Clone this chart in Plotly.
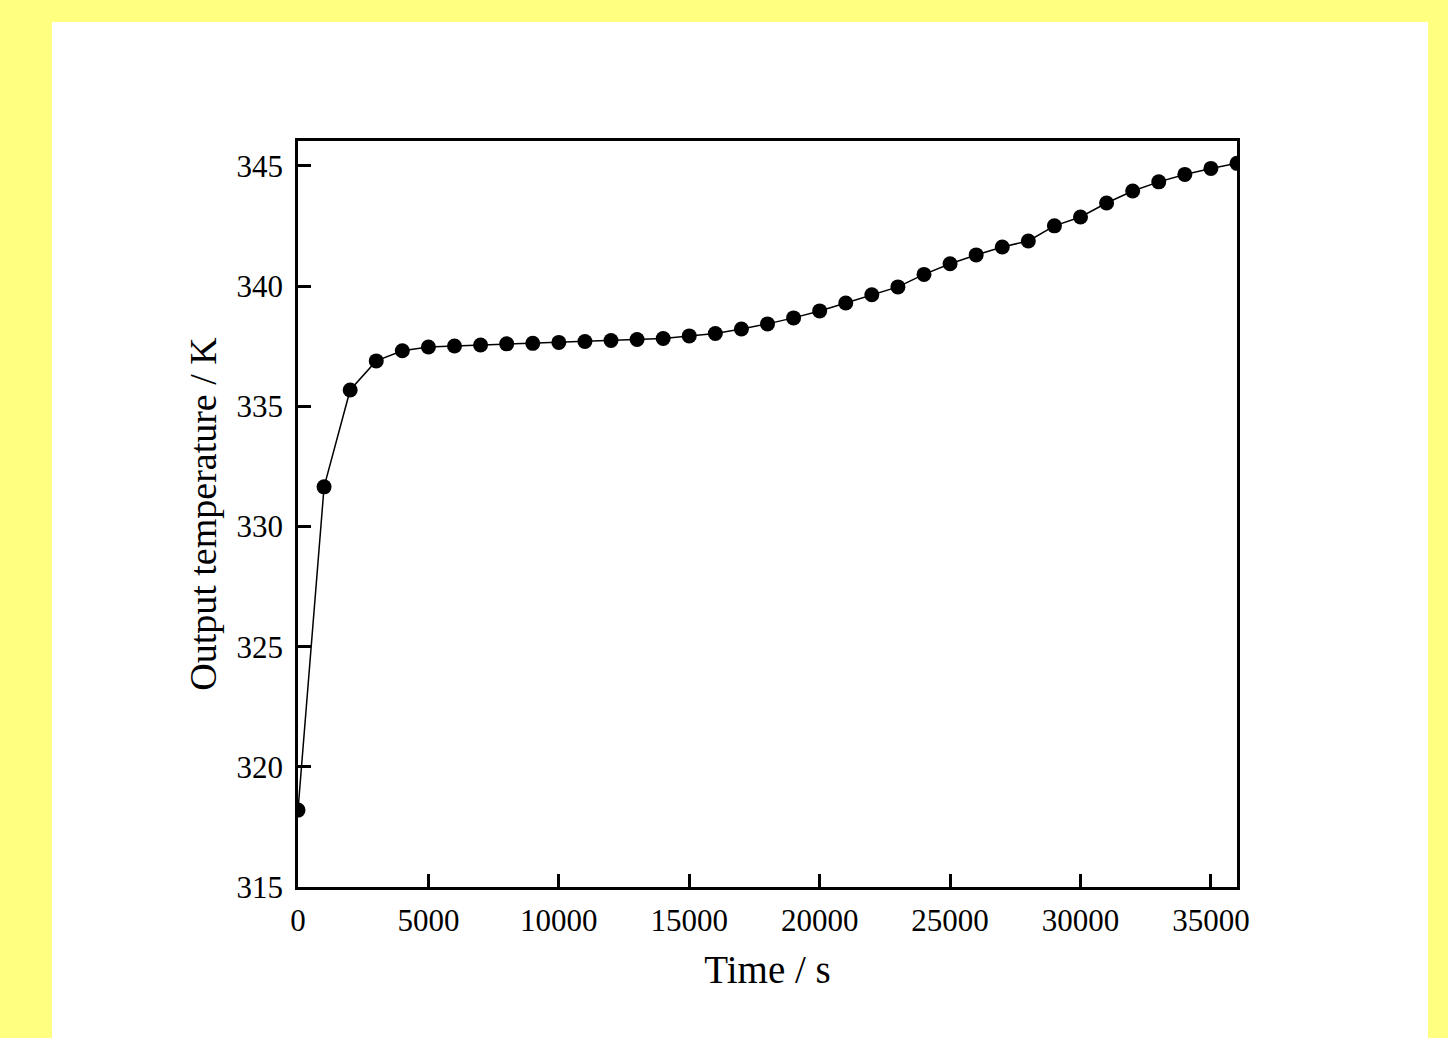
import plotly.graph_objects as go

time_s = [0, 1000, 2000, 3000, 4000, 5000, 6000, 7000, 8000, 9000, 10000,
          11000, 12000, 13000, 14000, 15000, 16000, 17000, 18000, 19000, 20000,
          21000, 22000, 23000, 24000, 25000, 26000, 27000, 28000, 29000, 30000,
          31000, 32000, 33000, 34000, 35000, 36000]
temperature_K = [318.2, 331.65, 335.68, 336.89, 337.31, 337.47, 337.51, 337.55,
                 337.60, 337.62, 337.66, 337.70, 337.74, 337.78, 337.82, 337.93,
                 338.03, 338.22, 338.43, 338.68, 338.97, 339.30, 339.64, 339.97,
                 340.49, 340.93, 341.30, 341.63, 341.88, 342.51, 342.88, 343.46,
                 343.96, 344.34, 344.65, 344.90, 345.11]
x_ticks = [0, 5000, 10000, 15000, 20000, 25000, 30000, 35000]
y_ticks = [315, 320, 325, 330, 335, 340, 345]

FONT = "Liberation Serif, Times New Roman, serif"

fig = go.Figure()
fig.add_trace(go.Scatter(
    x=time_s, y=temperature_K, mode="lines+markers",
    line=dict(color="black", width=1.5),
    marker=dict(color="black", size=15),
    showlegend=False,
))

W, H = 1448, 1038
L, R, T, B = 298, 1237, 141, 887
pw, ph = R - L, B - T

fig.add_shape(type="rect", xref="paper", yref="paper", layer="below",
              x0=(52 - L) / pw, x1=(1428 - L) / pw,
              y0=(B - 1038) / ph, y1=(B - 22) / ph,
              fillcolor="white", line=dict(width=0))

fig.update_layout(
    width=W, height=H,
    margin=dict(l=L, r=W - R, t=T, b=H - B),
    paper_bgcolor="#FFFF80", plot_bgcolor="white",
    font=dict(family=FONT, color="black", size=31),
)
fig.update_xaxes(
    range=[0, 36000], tickvals=x_ticks, ticktext=[str(v) for v in x_ticks],
    ticks="inside", ticklen=13, tickwidth=2.5, tickcolor="black",
    showline=True, linecolor="black", linewidth=2.8, mirror=True,
    showgrid=False, zeroline=False, ticklabelstandoff=4,
    tickfont=dict(family=FONT, size=31, color="black"),
    title=dict(text="Time / s", font=dict(family=FONT, size=39, color="black"), standoff=19),
)
fig.update_yaxes(
    range=[315, 346.04], tickvals=y_ticks, ticktext=[str(v) for v in y_ticks],
    ticks="inside", ticklen=13, tickwidth=2.5, tickcolor="black",
    showline=True, linecolor="black", linewidth=2.8, mirror=True,
    showgrid=False, zeroline=False, ticklabelstandoff=6,
    tickfont=dict(family=FONT, size=31, color="black"),
    title=dict(text="Output temperature / K", font=dict(family=FONT, size=38, color="black"), standoff=9),
)

fig.write_html("out.html", config={"displayModeBar": False},
               post_script="document.body.style.margin='0';document.body.style.overflow='hidden';")
